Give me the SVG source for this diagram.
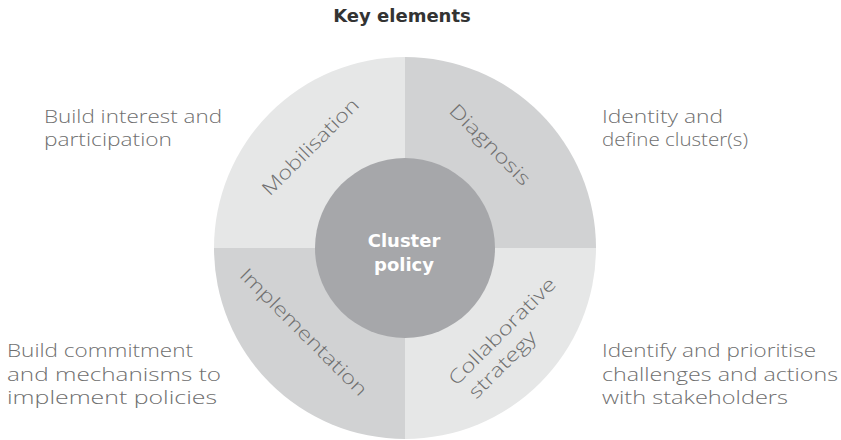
<svg xmlns="http://www.w3.org/2000/svg" width="841" height="440" viewBox="0 0 841 440">
<style>
.desc{font-family:"Open Sans","DejaVu Sans",sans-serif;font-weight:300;font-size:19px;fill:#6f6f6f;}
.lbl{font-family:"Open Sans","DejaVu Sans",sans-serif;font-weight:300;font-size:19px;fill:#6f6f6f;}
.mid{text-anchor:middle;}
.title{font-family:"DejaVu Sans","Liberation Sans",sans-serif;font-weight:700;font-size:18px;fill:#333333;text-anchor:middle;}
.center{font-family:"DejaVu Sans","Liberation Sans",sans-serif;font-weight:700;font-size:18px;fill:#ffffff;text-anchor:middle;}
.light{fill:#e6e7e7;}
.dark{fill:#d1d2d3;}
</style>
<rect width="841" height="440" fill="#ffffff"/>
<text id="title" class="title" x="402" y="22">Key elements</text>
<g id="mobilisation">
<path class="light" d="M405,248 L214,248 A191,191 0 0 1 405,57 Z"/>
<text class="lbl mid" transform="translate(311.5,148) rotate(-45)" x="0" y="5" textLength="128" lengthAdjust="spacingAndGlyphs">Mobilisation</text>
</g>
<g id="diagnosis">
<path class="dark" d="M405,248 L405,57 A191,191 0 0 1 596,248 Z"/>
<text class="lbl mid" transform="translate(489.7,145) rotate(45)" x="0" y="6" textLength="106" lengthAdjust="spacingAndGlyphs">Diagnosis</text>
</g>
<g id="collaborative-strategy">
<path class="light" d="M405,248 L596,248 A191,191 0 0 1 405,439 Z"/>
<g transform="translate(502.5,331.7) rotate(-45)">
<text class="lbl" x="-71.5" y="6" textLength="143" lengthAdjust="spacingAndGlyphs">Collaborative</text>
<text class="lbl" x="-66.8" y="29.6" textLength="87" lengthAdjust="spacingAndGlyphs">strategy</text>
</g>
</g>
<g id="implementation">
<path class="dark" d="M405,248 L405,439 A191,191 0 0 1 214,248 Z"/>
<text class="lbl mid" transform="translate(303.3,332.5) rotate(45)" x="0" y="6" textLength="171" lengthAdjust="spacingAndGlyphs">Implementation</text>
</g>
<g id="cluster-policy">
<circle cx="405" cy="248" r="90" fill="#a6a7aa"/>
<text class="center" x="404" y="247">Cluster</text>
<text class="center" x="404" y="270.5">policy</text>
</g>
<g id="desc-mobilisation">
<text class="desc" x="44" y="122.5" textLength="178" lengthAdjust="spacingAndGlyphs">Build interest and</text>
<text class="desc" x="44" y="146" textLength="128" lengthAdjust="spacingAndGlyphs">participation</text>
</g>
<g id="desc-diagnosis">
<text class="desc" x="602" y="122.5" textLength="121" lengthAdjust="spacingAndGlyphs">Identity and</text>
<text class="desc" x="602" y="146" textLength="146" lengthAdjust="spacingAndGlyphs">define cluster(s)</text>
</g>
<g id="desc-implementation">
<text class="desc" x="7" y="357" textLength="186" lengthAdjust="spacingAndGlyphs">Build commitment</text>
<text class="desc" x="7" y="380.5" textLength="214" lengthAdjust="spacingAndGlyphs">and mechanisms to</text>
<text class="desc" x="7" y="404" textLength="210" lengthAdjust="spacingAndGlyphs">implement policies</text>
</g>
<g id="desc-collaborative">
<text class="desc" x="602" y="357" textLength="214" lengthAdjust="spacingAndGlyphs">Identify and prioritise</text>
<text class="desc" x="602" y="380.5" textLength="236" lengthAdjust="spacingAndGlyphs">challenges and actions</text>
<text class="desc" x="602" y="404" textLength="186" lengthAdjust="spacingAndGlyphs">with stakeholders</text>
</g>
<g id="connectors"></g>
</svg>
